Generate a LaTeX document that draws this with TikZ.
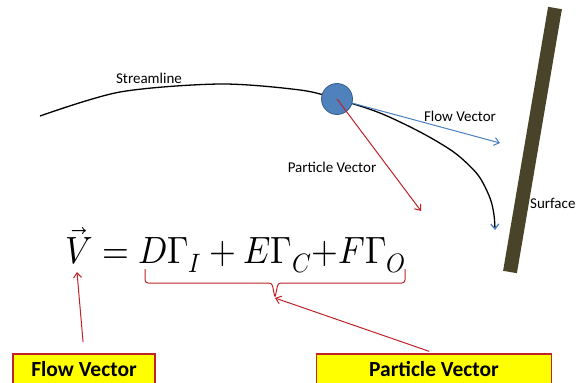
\documentclass[tikz,border=0pt]{standalone}
\usepackage{fontspec}
\usepackage{unicode-math}
\setmainfont{Carlito}
\setmathfont{Latin Modern Math}
\usetikzlibrary{arrows.meta}

\definecolor{flowblue}{RGB}{74,128,190}
\definecolor{ptcblue}{RGB}{79,129,189}
\definecolor{ptcedge}{RGB}{56,93,138}
\definecolor{vecred}{RGB}{190,35,40}
\definecolor{wallbrown}{RGB}{73,68,41}
\definecolor{tagyellow}{RGB}{255,255,0}

\tikzset{
  lbl/.style={font=\fontsize{15}{17}\selectfont, inner sep=0pt},
  tagbox/.style={draw=vecred, line width=1.6pt, fill=tagyellow, anchor=north,
    inner ysep=9pt, text height=14pt, text depth=12pt,
    font=\bfseries\fontsize{21.5}{24}\selectfont},
  redvec/.style={draw=vecred, line width=1pt, -{Straight Barb[length=5pt,width=8pt]}},
  bluevec/.style={draw=flowblue, line width=1pt, -{Straight Barb[length=5pt,width=8pt]}}
}

\begin{document}
\begin{tikzpicture}[x=1pt,y=-1pt]
  \useasboundingbox (0,0) rectangle (576,383);
  \clip (0,0) rectangle (576,383);
  % wall
  \draw[wallbrown, line width=14pt] (555,8) -- (510,272);
  \node[lbl, anchor=west] (surf) at (530,203) {Surface};
  % streamline and particle
  \draw[line width=1.3pt, -{Straight Barb[length=5pt,width=8pt,color=flowblue]}]
    plot[smooth] coordinates {(40,116) (120,92) (220,84) (300,90) (337,99) (380,113)
      (422,133) (455,153) (478,175) (490,198) (494,215) (495,230)};
  \node[lbl] (stream) at (149,78) {Streamline};
  \coordinate (flowtip) at (500,143);
  \coordinate (parttip) at (421,211);
  \node[circle, fill=ptcblue, draw=ptcedge, line width=0.8pt, minimum size=31pt,
    inner sep=0pt] (ptc) at (337,99) {};
  \draw[bluevec] (ptc) -- (flowtip);
  \draw[redvec] (ptc.center) -- (parttip);
  \node[lbl] (flowlbl) at (460,116) {Flow Vector};
  \node[lbl] (partlbl) at (332,167) {Particle Vector};
  % equation
  \node[anchor=base west, inner sep=0pt] (eq) at (65,263)
    {\scalebox{0.905}[1]{\fontsize{38}{40}\selectfont
     $\vec{V} = D\Gamma_I + E\Gamma_C{+}F\Gamma_O$}};
  \coordinate (vfoot) at (77,272);
  \coordinate (bracetip) at (275,298);
  \draw[vecred, line width=1pt, rounded corners=3pt]
    (145,269) -- (145,283) -- (272,283) -- (bracetip) -- (278,283) -- (405,283) -- (405,269);
  % tags
  \node[tagbox, minimum width=142pt] (flowtag) at (84,353) {Flow Vector};
  \node[tagbox, minimum width=235pt] (parttag) at (434,353) {Particle Vector};
  \draw[redvec, shorten <=11pt] (flowtag.north) -- (vfoot);
  \draw[redvec, shorten <=5pt] (parttag.north) -- (bracetip);
\end{tikzpicture}
\end{document}
